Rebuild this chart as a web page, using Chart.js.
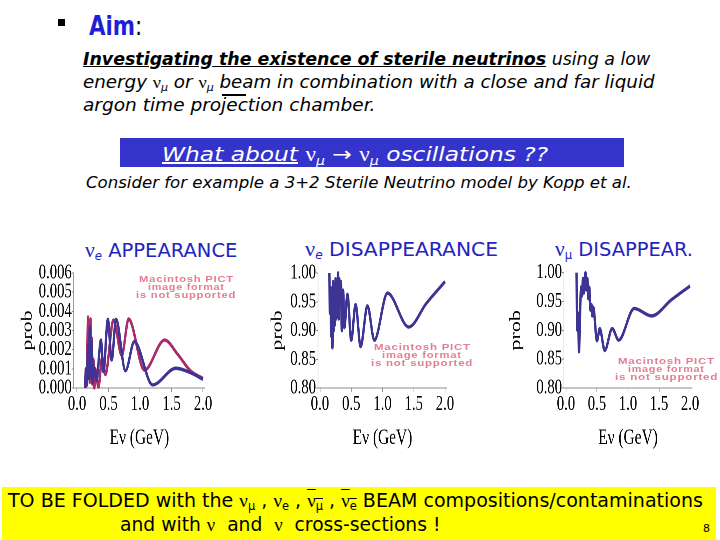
<!DOCTYPE html>
<html><head><meta charset="utf-8">
<script src="https://cdn.jsdelivr.net/npm/chart.js@4.4.1/dist/chart.umd.min.js"></script>
<style>
html,body{margin:0;padding:0;background:#fff;}
body{width:720px;height:540px;overflow:hidden;position:relative;font-family:"DejaVu Sans",sans-serif;color:#000;}
.t{position:absolute;white-space:nowrap;line-height:1;transform-origin:0 50%;}
.gr{font-family:"Liberation Serif",serif;font-style:normal;font-weight:normal;}
sub{font-size:0.6em;vertical-align:-0.3em;line-height:0;}
.ov{text-decoration:overline;}
.pict{font-family:"Liberation Sans",Arial,sans-serif;font-weight:bold;font-size:9px;color:#e27d92;letter-spacing:0.6px;}
.wrap{position:absolute;top:250px;transform:scaleX(0.7);transform-origin:0 0;}
</style>
</head><body>
<div style="position:absolute;left:58px;top:19px;width:7px;height:7px;background:#000;"></div>
<div class="t" id="aim" style="font-size:27px;font-weight:bold;"><span style="color:#1f1fd6">Aim</span><span style="font-weight:normal">:</span></div>
<div class="t" id="l1" style="font-size:17px;font-style:italic;"><u><b>Investigating the existence of sterile neutrinos</b></u> using a low</div>
<div class="t" id="l2" style="font-size:17px;font-style:italic;">energy <span class="gr">ν</span><sub>μ</sub> or <span class="gr">ν</span><sub>μ</sub> beam in combination with a close and far liquid</div>
<div class="t" id="l3" style="font-size:17px;font-style:italic;">argon time projection chamber.</div>
<div style="position:absolute;left:222px;top:94px;width:24px;height:1.5px;background:#000;"></div>
<div style="position:absolute;left:120px;top:138px;width:504px;height:29px;background:#3434cc;"></div>
<div class="t" id="box" style="font-size:20px;font-style:italic;color:#fff;"><u>What about</u> <span class="gr">ν</span><sub>μ</sub> → <span class="gr">ν</span><sub>μ</sub> oscillations ??</div>
<div class="t" id="cons" style="font-size:16px;font-style:italic;">Consider for example a 3+2 Sterile Neutrino model by Kopp et al.</div>
<div class="t" id="t1" style="font-size:19px;color:#2323bd;"><span class="gr" style="font-size:21px">ν</span><sub style="font-style:italic">e</sub> APPEARANCE</div>
<div class="t" id="t2" style="font-size:19px;color:#2323bd;"><span class="gr" style="font-size:21px">ν</span><sub style="font-style:italic">e</sub> DISAPPEARANCE</div>
<div class="t" id="t3" style="font-size:19px;color:#2323bd;"><span class="gr" style="font-size:21px">ν</span><sub>μ</sub> DISAPPEAR.</div>

<div class="wrap" style="left:10px;"><canvas id="c1" width="293" height="210"></canvas></div>
<div class="wrap" style="left:255px;"><canvas id="c2" width="291" height="210"></canvas></div>
<div class="wrap" style="left:495px;"><canvas id="c3" width="300" height="210"></canvas></div>

<div class="t pict" id="m1a">Macintosh PICT</div>
<div class="t pict" id="m1b">image format</div>
<div class="t pict" id="m1c">is not supported</div>
<div class="t pict" id="m2a">Macintosh PICT</div>
<div class="t pict" id="m2b">image format</div>
<div class="t pict" id="m2c">is not supported</div>
<div class="t pict" id="m3a">Macintosh PICT</div>
<div class="t pict" id="m3b">image format</div>
<div class="t pict" id="m3c">is not supported</div>

<div style="position:absolute;left:2px;top:487px;width:714px;height:53px;background:#ffff00;"></div>
<div class="t" id="b1" style="font-size:19px;">TO BE FOLDED with the <span class="gr">ν</span><sub>μ</sub> , <span class="gr">ν</span><sub>e</sub> , <span class="ov"><span class="gr">ν</span><sub>μ</sub></span> , <span class="ov"><span class="gr">ν</span><sub>e</sub></span> BEAM compositions/contaminations</div>
<div class="t" id="b2" style="font-size:19px;">and with <span class="gr">ν</span>&nbsp; and&nbsp; <span class="gr">ν</span>&nbsp; cross-sections !</div>
<div class="t" id="p8" style="font-size:11px;">8</div>

<script>
// ---------- data ----------
const xTicks = [0, 0.5, 1.0, 1.5, 2.0];
const appearTicks = [0.000, 0.001, 0.002, 0.003, 0.004, 0.005, 0.006];
const disappTicks = [0.80, 0.85, 0.90, 0.95, 1.00];

// nu_e appearance, blue curve
const appearEnergyBlue = [0.13, 0.145, 0.16, 0.175, 0.19, 0.205, 0.22, 0.235, 0.25, 0.27, 0.31, 0.38, 0.42, 0.49, 0.55, 0.62, 0.77, 0.91, 1.20, 1.57, 1.80, 2.00];
const appearProbBlue   = [0.0000, 0.0010, 0.0002, 0.0022, 0.0005, 0.0032, 0.0006, 0.0024, 0.0003, 0.0011, 0.0004, 0.0025, 0.00085, 0.00358, 0.00146, 0.00358, 0.0009, 0.00242, 0.00016, 0.00103, 0.0008, 0.00045];
// nu_e appearance, magenta curve
const appearEnergyMag = [0.13, 0.14, 0.15, 0.165, 0.175, 0.185, 0.195, 0.205, 0.215, 0.225, 0.235, 0.245, 0.26, 0.275, 0.29, 0.34, 0.40, 0.45, 0.58, 0.71, 0.82, 1.07, 1.39, 1.60, 1.80, 2.00];
const appearProbMag   = [0.0000, 0.0010, 0.0001, 0.0020, 0.0037, 0.0005, 0.0035, 0.0003, 0.0036, 0.0008, 0.0026, 0.0002, 0.0015, 0.0000, 0.0010, 0.00005, 0.0016, 0.0007, 0.00355, 0.0017, 0.0036, 0.00093, 0.0025, 0.00175, 0.0009, 0.0005];
// nu_e disappearance
const disappEEnergy = [0.15, 0.16, 0.17, 0.18, 0.19, 0.20, 0.21, 0.22, 0.23, 0.24, 0.25, 0.26, 0.27, 0.28, 0.29, 0.30, 0.31, 0.32, 0.335, 0.35, 0.37, 0.39, 0.44, 0.50, 0.57, 0.65, 0.76, 0.87, 1.08, 1.42, 1.70, 2.00];
const disappEProb   = [1.00, 0.93, 0.975, 0.89, 0.965, 0.87, 0.985, 0.90, 0.96, 0.91, 0.99, 0.92, 0.97, 0.93, 1.00, 0.92, 0.99, 0.95, 0.985, 0.90, 0.97, 0.905, 0.963, 0.883, 0.945, 0.872, 0.943, 0.883, 0.965, 0.906, 0.947, 0.985];
// nu_mu disappearance
const disappMuEnergy = [0.17, 0.185, 0.195, 0.21, 0.225, 0.245, 0.26, 0.275, 0.29, 0.315, 0.33, 0.345, 0.36, 0.375, 0.395, 0.41, 0.425, 0.44, 0.50, 0.545, 0.625, 0.745, 0.85, 1.10, 1.38, 1.70, 2.00];
const disappMuProb   = [1.00, 0.90, 0.93, 0.863, 0.92, 0.975, 0.96, 0.99, 0.965, 1.00, 0.97, 0.99, 0.955, 0.975, 0.935, 0.945, 0.925, 0.94, 0.882, 0.903, 0.865, 0.903, 0.883, 0.938, 0.925, 0.953, 0.977];

const BLUE = '#3d3493', MAGENTA = '#a92d6d', AX = '#8c8c8c';
const SERIF = '"Liberation Serif", "Times New Roman", serif';

function pts(xs, ys) { return xs.map((x, i) => ({x: x, y: ys[i]})); }

function makeChart(id, c) {
  return new Chart(document.getElementById(id), {
    type: 'line',
    data: { datasets: c.series.map(s => ({
      data: pts(s.x, s.y), borderColor: s.color, borderWidth: 3.4, pointRadius: 0,
      cubicInterpolationMode: 'monotone', fill: false, clip: false
    })) },
    options: {
      responsive: false, animation: false, devicePixelRatio: 2,
      layout: { padding: { top: c.padTop, right: c.padRight, left: 0, bottom: 0 } },
      plugins: { legend: { display: false }, tooltip: { enabled: false } },
      scales: {
        x: {
          type: 'linear', min: c.xMin, max: 2.03,
          afterBuildTicks: s => { s.ticks = xTicks.map(v => ({value: v})); },
          afterFit: s => { s.height = 72; },
          grid: { drawOnChartArea: false, tickLength: 4, color: AX },
          border: { color: AX, width: 1 },
          ticks: { padding: 0, color: '#000', font: { family: SERIF, size: 21 }, maxRotation: 0, autoSkip: false,
                   callback: v => Number(v).toFixed(1) },
          title: { display: true, text: 'Eν (GeV)', color: '#000', font: { family: SERIF, size: 22, lineHeight: 1.2 },
                   padding: { top: 0, bottom: 8.8 } }
        },
        y: {
          type: 'linear', min: c.yTicks[0], max: c.yTicks[c.yTicks.length - 1],
          afterBuildTicks: s => { s.ticks = c.yTicks.map(v => ({value: v})); },
          afterFit: s => { s.width = c.yW; },
          grid: { drawOnChartArea: false, tickLength: 3, color: AX },
          border: { color: AX, width: 1 },
          ticks: { padding: 0, color: '#000', font: { family: SERIF, size: 21 }, autoSkip: false,
                   callback: v => Number(v).toFixed(c.dec) },
          title: { display: true, text: 'prob', color: '#000', font: { family: SERIF, size: 22, lineHeight: 1 },
                   padding: { top: c.yTitlePad, bottom: 0 } }
        }
      }
    }
  });
}

makeChart('c1', { series: [
    {x: appearEnergyBlue, y: appearProbBlue, color: BLUE},
    {x: appearEnergyMag, y: appearProbMag, color: MAGENTA}],
  yTicks: appearTicks, dec: 3, xMin: -0.05, yW: 91.2, padTop: 23, padRight: 14.6, yTitlePad: 14 });
makeChart('c2', { series: [{x: disappEEnergy, y: disappEProb, color: BLUE}],
  yTicks: disappTicks, dec: 2, xMin: -0.03, yW: 90.1, padTop: 23, padRight: 16.9, yTitlePad: 21 });
makeChart('c3', { series: [{x: disappMuEnergy, y: disappMuProb, color: BLUE}],
  yTicks: disappTicks, dec: 2, xMin: -0.03, yW: 98.7, padTop: 22.7, padRight: 18.7, yTitlePad: 19 });

// ---------- text layout: [id, left, centerY, width, centered] ----------
const textLayout = [
  ['aim', 89, 25, 53], ['l1', 83, 59, 567], ['l2', 83, 82, 572], ['l3', 83, 105, 292],
  ['box', 162, 154, 386], ['cons', 86, 183, 546],
  ['t1', 85, 250, 152], ['t2', 305, 249, 193], ['t3', 555, 249, 138],
  ['m1a', 186, 279, 95, 1], ['m1b', 186, 287, 77, 1], ['m1c', 186, 295, 100, 1],
  ['m2a', 422, 347, 97, 1], ['m2b', 422, 355, 80, 1], ['m2c', 422, 363, 102, 1],
  ['m3a', 666, 361, 97, 1], ['m3b', 666, 369, 77, 1], ['m3c', 666, 377, 103, 1],
  ['b1', 8, 500, 695], ['b2', 120, 524, 320], ['p8', 703, 528, 0]
];
function layoutText() {
  textLayout.forEach(([id, left, cy, w, centered]) => {
    const el = document.getElementById(id);
    el.style.transform = 'none';
    const nat = el.offsetWidth, h = el.offsetHeight;
    const s = w ? w / nat : 1;
    el.style.transform = 'scaleX(' + s + ')';
    el.style.left = (centered ? left - w / 2 : left) + 'px';
    el.style.top = (cy - h / 2) + 'px';
  });
}
layoutText();
if (document.fonts && document.fonts.ready) document.fonts.ready.then(layoutText);
</script>
</body></html>
